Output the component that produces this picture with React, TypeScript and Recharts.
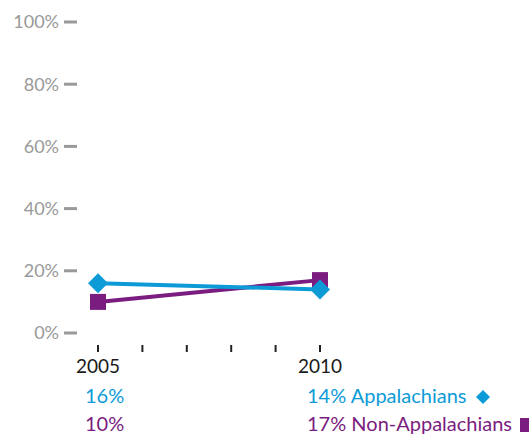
import React from 'react';
import { LineChart, Line, XAxis, YAxis } from 'recharts';

const years = [2005, 2010];
const appalachians = [16, 14];
const nonAppalachians = [10, 17];
const yTicks = [0, 20, 40, 60, 80, 100];
const xTicks = [2005, 2006, 2007, 2008, 2009, 2010];
const seriesNames = ['Appalachians', 'Non-Appalachians'];

const BLUE = '#0d9bd8';
const PURPLE = '#7b1c80';
const GREY = '#999999';
const FONT = 'Lato, "Open Sans", sans-serif';

const data = years.map((year, i) => ({
  year,
  app: appalachians[i],
  nonApp: nonAppalachians[i],
}));

const Diamond = (props: any) => {
  const { cx, cy, index } = props;
  const r = 10;
  return (
    <path
      key={`d-${index}`}
      d={`M${cx},${cy - r} L${cx + r},${cy} L${cx},${cy + r} L${cx - r},${cy} Z`}
      fill={BLUE}
    />
  );
};

const Square = (props: any) => {
  const { cx, cy, index } = props;
  const s = 8;
  return <rect key={`s-${index}`} x={cx - s} y={cy - s} width={s * 2} height={s * 2} fill={PURPLE} />;
};

// year tick + the value rows under it (legend names sit next to the last year)
const YearTick = (props: any) => {
  const { x, y, payload } = props;
  const year = payload.value;
  const idx = years.indexOf(year);
  const isLast = idx === years.length - 1;
  return (
    <g fontFamily={FONT}>
      <line x1={x} x2={x} y1={y + 12} y2={y + 19} stroke="#222" strokeWidth={2} />
      {idx >= 0 && (
        <>
          <text x={x} y={y + 40} textAnchor="middle" fontSize={19} fill="#1a1a1a">
            {year}
          </text>
          <text x={x - 13} y={y + 70} fontSize={20} fill={BLUE}>
            {`${appalachians[idx]}%${isLast ? ' ' + seriesNames[0] : ''}`}
          </text>
          <text x={x - 13} y={y + 98} fontSize={20} fill={PURPLE}>
            {`${nonAppalachians[idx]}%${isLast ? ' ' + seriesNames[1] : ''}`}
          </text>
          {isLast && (
            <>
              <path
                d={`M${x + 163},${y + 57} L${x + 170},${y + 64} L${x + 163},${y + 71} L${x + 156},${y + 64} Z`}
                fill={BLUE}
              />
              <rect x={x + 200} y={y + 85} width={14} height={14} fill={PURPLE} />
            </>
          )}
        </>
      )}
    </g>
  );
};

export default function App() {
  return (
    <div style={{ position: 'absolute', left: 0, top: 0, width: 529, height: 436, background: '#fff' }}>
      <LineChart width={529} height={436} data={data} margin={{ top: 22, right: 209, bottom: 0, left: 0 }}>
        <XAxis
          dataKey="year"
          type="number"
          domain={[2005, 2010]}
          ticks={xTicks}
          interval={0}
          axisLine={false}
          tickLine={false}
          tickSize={0}
          tickMargin={0}
          height={103}
          padding={{ left: 21, right: 0 }}
          tick={<YearTick />}
        />
        <YAxis
          domain={[0, 100]}
          ticks={yTicks}
          interval={0}
          width={77}
          axisLine={false}
          tickSize={13}
          tickMargin={5}
          tickLine={{ stroke: GREY, strokeWidth: 3 }}
          tickFormatter={(v: number) => `${v}%`}
          tick={{ fill: GREY, fontSize: 18, fontFamily: FONT }}
        />
        <Line
          dataKey="nonApp"
          stroke={PURPLE}
          strokeWidth={4}
          dot={<Square />}
          activeDot={false}
          isAnimationActive={false}
        />
        <Line
          dataKey="app"
          stroke={BLUE}
          strokeWidth={4}
          dot={<Diamond />}
          activeDot={false}
          isAnimationActive={false}
        />
      </LineChart>
    </div>
  );
}
